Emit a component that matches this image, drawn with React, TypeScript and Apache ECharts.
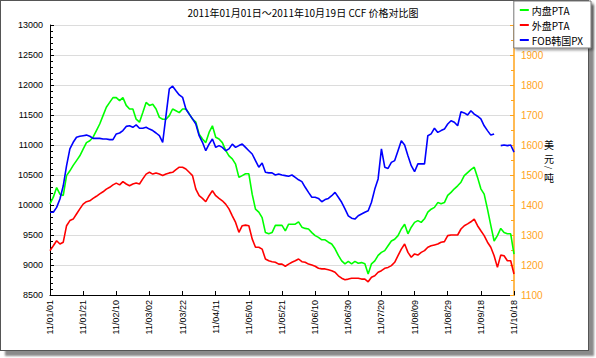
import React, { useEffect, useRef } from "react";
import * as echarts from "echarts";

const tickLabels = [
  "11/01/01", "11/01/21", "11/02/10", "11/03/02", "11/03/22", "11/04/11", "11/05/01", "11/05/21",
  "11/06/10", "11/06/30", "11/07/20", "11/08/09", "11/08/29", "11/09/18", "11/10/18",
];
const pointsPerTick = 10;

const domesticPTA = [
  10020, 10130, 10290, 10180, 10160, 10490, 10570, 10660, 10740, 10820,
  10930, 11040, 11070, 11130, 11240, 11350, 11490, 11630, 11710, 11790,
  11790, 11740, 11790, 11660, 11600, 11600, 11430, 11380, 11540, 11710,
  11660, 11680, 11600, 11460, 11430, 11430, 11490, 11600, 11570, 11540,
  11600, 11600, 11520, 11430, 11380, 11180, 11100, 11040, 11210, 11320,
  11130, 11100, 11040, 10910, 10820, 10770, 10680, 10460, 10490, 10520,
  10520, 10180, 9930, 9880, 9790, 9540, 9520, 9540, 9660, 9660,
  9660, 9570, 9680, 9680, 9680, 9720, 9630, 9610, 9600, 9540,
  9490, 9460, 9420, 9420, 9380, 9350, 9270, 9160, 9070, 9020,
  9060, 9020, 9060, 9030, 9040, 9020, 8850, 9020, 9070, 9160,
  9210, 9240, 9320, 9400, 9430, 9490, 9600, 9680, 9520, 9630,
  9710, 9740, 9710, 9770, 9880, 9930, 9960, 10040, 10020, 10040,
  10160, 10210, 10270, 10320, 10380, 10490, 10540, 10590, 10630, 10460,
  10270, 10180, 9930, 9660, 9400, 9490, 9610, 9540, 9520, 9520,
  9180,
];

const foreignPTA = [
  1248, 1264, 1281, 1270, 1276, 1331, 1348, 1353, 1370, 1387,
  1403, 1411, 1414, 1422, 1429, 1437, 1444, 1453, 1459, 1467,
  1473, 1467, 1478, 1470, 1464, 1470, 1473, 1470, 1487, 1503,
  1509, 1503, 1507, 1503, 1498, 1503, 1507, 1509, 1518, 1526,
  1526, 1520, 1509, 1498, 1453, 1431, 1422, 1411, 1431, 1448,
  1431, 1422, 1414, 1403, 1387, 1364, 1342, 1309, 1331, 1333,
  1331, 1287, 1259, 1259, 1253, 1220, 1214, 1211, 1209, 1203,
  1203, 1196, 1203, 1209, 1214, 1220, 1211, 1209, 1203, 1200,
  1196, 1189, 1187, 1187, 1184, 1181, 1176, 1164, 1156, 1151,
  1153, 1156, 1156, 1156, 1153, 1153, 1144, 1159, 1164, 1176,
  1181, 1189, 1192, 1198, 1209, 1231, 1253, 1270, 1242, 1226,
  1237, 1233, 1242, 1248, 1259, 1264, 1267, 1270, 1276, 1278,
  1298, 1300, 1300, 1300, 1320, 1331, 1337, 1344, 1353, 1331,
  1314, 1298, 1276, 1259, 1231, 1192, 1233, 1231, 1214, 1214,
  1170,
];

const fobKoreaPX = [
  1376, 1376, 1392, 1420, 1464, 1531, 1587, 1609, 1626, 1629,
  1631, 1633, 1629, 1622, 1622, 1622, 1620, 1620, 1618, 1618,
  1637, 1640, 1648, 1662, 1664, 1659, 1667, 1656, 1656, 1659,
  1653, 1648, 1640, 1631, 1609, 1698, 1787, 1796, 1781, 1767,
  1759, 1720, 1703, 1687, 1670, 1631, 1609, 1581, 1603, 1620,
  1592, 1598, 1592, 1581, 1587, 1603, 1592, 1598, 1603, 1592,
  1581, 1570, 1548, 1526, 1540, 1509, 1507, 1507, 1500, 1503,
  1500, 1498, 1496, 1500, 1492, 1484, 1478, 1459, 1442, 1426,
  1426, 1422, 1411, 1418, 1422, 1431, 1442, 1426, 1409, 1387,
  1364, 1356, 1353, 1364, 1370, 1376, 1381, 1409, 1453, 1487,
  1587, 1526, 1522, 1542, 1548, 1581, 1614, 1600, 1564, 1531,
  1511, 1537, 1537, 1537, 1631, 1637, 1656, 1642, 1648, 1653,
  1670, 1681, 1676, 1664, 1711, 1707, 1700, 1714, 1703, 1696,
  1687, 1664, 1648, 1633, 1637, null, 1598, 1600, 1598, 1600,
  1576,
];

const seriesNames = ["内盘PTA", "外盘PTA", "FOB韩国PX"];
const seriesColors = ["#00ff00", "#ff0000", "#0000ff"];
const leftTicks = { min: 8500, max: 13000, interval: 500 };
const rightTicks = { min: 1100, max: 2000, interval: 100 };
const unitChars = ["美", "元", "/", "吨"];

const categories = domesticPTA.map((_, i) =>
  i % pointsPerTick === 0 ? tickLabels[i / pointsPerTick] : ""
);

export default function App() {
  const ref = useRef<HTMLDivElement>(null);
  useEffect(() => {
    if (!ref.current) return;
    const chart = echarts.init(ref.current, undefined, { renderer: "svg" });
    const font = "Liberation Sans, Arial, sans-serif";
    const cjk = "'Noto Sans CJK SC', sans-serif";
    const showIdx = (idx: number) => idx % pointsPerTick === 0;
    const unitY = [144, 158, 167.5, 177];
    chart.setOption({
      animation: false,
      backgroundColor: "transparent",
      title: {
        text: "2011年01月01日～2011年10月19日 CCF 价格对比图",
        left: 298,
        textAlign: "center",
        top: 2,
        textStyle: { fontSize: 10, fontWeight: "normal", color: "#000", fontFamily: cjk },
      },
      legend: {
        orient: "vertical",
        right: 5,
        top: 1,
        width: 60,
        data: seriesNames,
        icon: "rect",
        itemWidth: 9,
        itemHeight: 2,
        itemGap: 5,
        padding: [4, 8, 3, 6],
        backgroundColor: "#fff",
        borderColor: "#777",
        borderWidth: 1,
        shadowColor: "rgba(0,0,0,0.35)",
        shadowBlur: 2,
        shadowOffsetX: 2,
        shadowOffsetY: 2,
        z: 10,
        textStyle: { fontSize: 10, color: "#000", fontFamily: cjk, padding: [0, 0, 0, -2] },
      },
      grid: { left: 50, right: 82, top: 25, bottom: 63 },
      xAxis: {
        type: "category",
        data: categories,
        boundaryGap: false,
        axisLine: { lineStyle: { color: "#000", width: 1 } },
        axisTick: { inside: true, length: 4, interval: (idx: number) => showIdx(idx), lineStyle: { color: "#000" } },
        axisLabel: {
          interval: (idx: number) => showIdx(idx),
          rotate: 90,
          fontSize: 9,
          color: "#000",
          fontFamily: font,
          margin: 5,
        },
        splitLine: { show: false },
      },
      yAxis: [
        {
          type: "value",
          min: leftTicks.min,
          max: leftTicks.max,
          interval: leftTicks.interval,
          position: "left",
          axisLine: { show: true, lineStyle: { color: "#000" } },
          axisTick: { show: true, inside: true, length: 4, lineStyle: { color: "#000" } },
          minorTick: { show: true, splitNumber: 5, length: 3, lineStyle: { color: "#000" } },
          axisLabel: { fontSize: 9, color: "#000", fontFamily: font, margin: 7, formatter: (v: number) => String(v) },
          splitLine: { show: true, lineStyle: { color: "#dcdcdc", width: 1 } },
        },
        {
          type: "value",
          min: rightTicks.min,
          max: rightTicks.max,
          interval: rightTicks.interval,
          position: "right",
          axisLine: { show: true, lineStyle: { color: "#ffa31a", width: 1.5 } },
          axisTick: { show: true, inside: true, length: 4, lineStyle: { color: "#ffa31a" } },
          minorTick: { show: true, splitNumber: 2, length: 3, lineStyle: { color: "#ffa31a" } },
          axisLabel: {
            fontSize: 10,
            color: "#ffa31a",
            fontFamily: font,
            margin: 7,
            showMaxLabel: false,
            formatter: (v: number) => String(v),
          },
          splitLine: { show: false },
        },
      ],
      graphic: unitChars.map((ch, i) => ({
        type: "text",
        x: 549,
        y: unitY[i],
        rotation: ch === "/" ? -Math.PI / 2 : 0,
        style: {
          text: ch,
          fontSize: ch === "/" ? 8 : 10,
          fill: "#000",
          fontFamily: cjk,
          textAlign: "center",
          textVerticalAlign: "middle",
          verticalAlign: "middle",
        },
      })),
      series: [
        { name: seriesNames[0], data: domesticPTA, yAxisIndex: 0 },
        { name: seriesNames[1], data: foreignPTA, yAxisIndex: 1 },
        { name: seriesNames[2], data: fobKoreaPX, yAxisIndex: 1 },
      ].map((s, i) => ({
        ...s,
        type: "line",
        showSymbol: false,
        symbol: "none",
        connectNulls: false,
        color: seriesColors[i],
        lineStyle: { width: 1.6, color: seriesColors[i] },
      })),
    });
    return () => chart.dispose();
  }, []);

  return (
    <div style={{ position: "fixed", left: 0, top: 0, width: 596, height: 358, background: "#fff" }}>
      <div
        style={{
          position: "absolute",
          left: 0,
          top: 0,
          width: 587,
          height: 349,
          border: "1px solid #555",
          boxShadow: "5px 5px 2px #8a8a8a",
          background: "#fff",
        }}
      />
      <div ref={ref} style={{ position: "absolute", left: 0, top: 0, width: 596, height: 358 }} />
    </div>
  );
}
